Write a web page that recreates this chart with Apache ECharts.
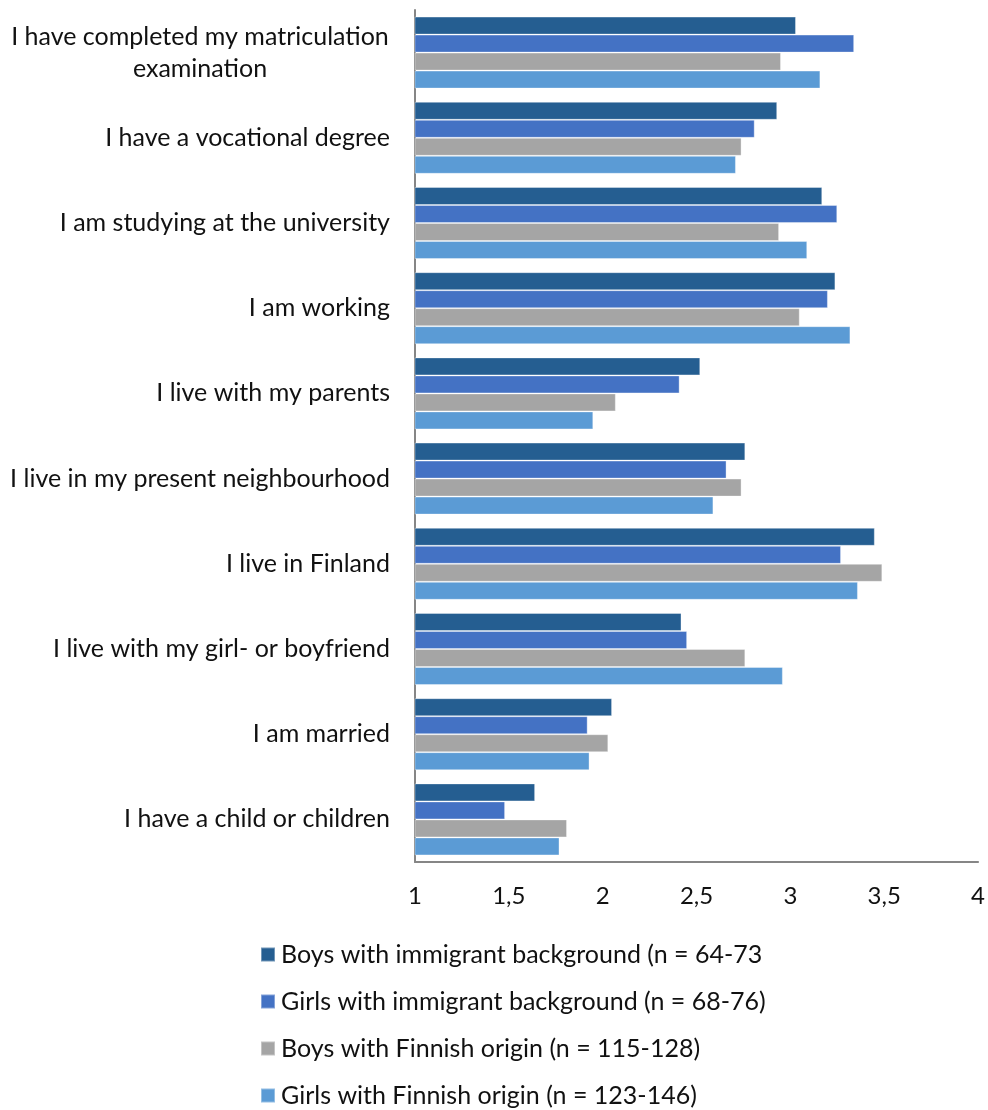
<!DOCTYPE html>
<html>
<head>
<meta charset="utf-8">
<script src="https://cdn.jsdelivr.net/npm/echarts@6/dist/echarts.min.js"></script>
<style>
  html, body { margin: 0; padding: 0; background: #fff; }
  #chart { width: 988px; height: 1110px; }
</style>
</head>
<body>
<div id="chart"></div>
<script>
// Statements about the future, mean agreement (1–4) by group
const categories = [
  'I have completed my matriculation\nexamination',
  'I have a vocational degree',
  'I am studying at the university',
  'I am working',
  'I live with my parents',
  'I live in my present neighbourhood',
  'I live in Finland',
  'I live with my girl- or boyfriend',
  'I am married',
  'I have a child or children'
];

const seriesNames = [
  'Boys with immigrant background (n = 64-73',
  'Girls with immigrant background (n = 68-76)',
  'Boys with Finnish origin (n = 115-128)',
  'Girls with Finnish origin (n = 123-146)'
];

const boysImmigrant  = [3.03, 2.93, 3.17, 3.24, 2.52, 2.76, 3.45, 2.42, 2.05, 1.64];
const girlsImmigrant = [3.34, 2.81, 3.25, 3.20, 2.41, 2.66, 3.27, 2.45, 1.92, 1.48];
const boysFinnish    = [2.95, 2.74, 2.94, 3.05, 2.07, 2.74, 3.49, 2.76, 2.03, 1.81];
const girlsFinnish   = [3.16, 2.71, 3.09, 3.32, 1.95, 2.59, 3.36, 2.96, 1.93, 1.77];

const colors = ['#255E91', '#4472C4', '#A5A5A5', '#5B9BD5'];
const seriesData = [boysImmigrant, girlsImmigrant, boysFinnish, girlsFinnish];

const FONT = 'Lato, "Open Sans", sans-serif';
const TEXT = '#111111';
const chart = echarts.init(document.getElementById('chart'), null, { renderer: 'canvas' });

chart.setOption({
  animation: false,
  backgroundColor: '#ffffff',
  textStyle: { fontFamily: FONT },
  grid: { left: 415, right: 8, top: 10, bottom: 248, containLabel: false },
  xAxis: {
    type: 'value',
    min: 1,
    max: 4,
    interval: 0.5,
    axisLine: { show: true, lineStyle: { color: '#868686', width: 2 } },
    axisTick: { show: false },
    splitLine: { show: false },
    axisLabel: {
      margin: 22,
      fontSize: 24,
      color: TEXT,
      fontFamily: FONT,
      formatter: v => String(v).replace('.', ',')
    }
  },
  yAxis: {
    type: 'category',
    inverse: true,
    data: categories,
    axisLine: { show: true, lineStyle: { color: '#868686', width: 2 } },
    axisTick: { show: false },
    axisLabel: {
      margin: 25,
      fontSize: 25,
      color: TEXT,
      fontFamily: FONT,
      lineHeight: 32,
      formatter: v => v.indexOf('\n') >= 0 ? '{c|' + v + '}' : v,
      rich: {
        c: { width: 380, align: 'center', fontSize: 25, lineHeight: 32, color: TEXT, fontFamily: FONT }
      }
    }
  },
  legend: {
    orient: 'vertical',
    left: 260,
    top: 942,
    height: 200,
    padding: 0,
    itemGap: 22,
    itemWidth: 14,
    itemHeight: 14,
    icon: 'rect',
    textStyle: { fontSize: 25, color: TEXT, fontFamily: FONT, padding: [0, 0, 0, 1] },
    data: seriesNames
  },
  series: seriesData.map((d, i) => ({
    name: seriesNames[i],
    type: 'bar',
    data: d,
    barWidth: 18,
    barGap: '0%',
    itemStyle: { color: colors[i], borderColor: 'rgba(255,255,255,0.35)', borderWidth: 1 }
  }))
});
</script>
</body>
</html>
